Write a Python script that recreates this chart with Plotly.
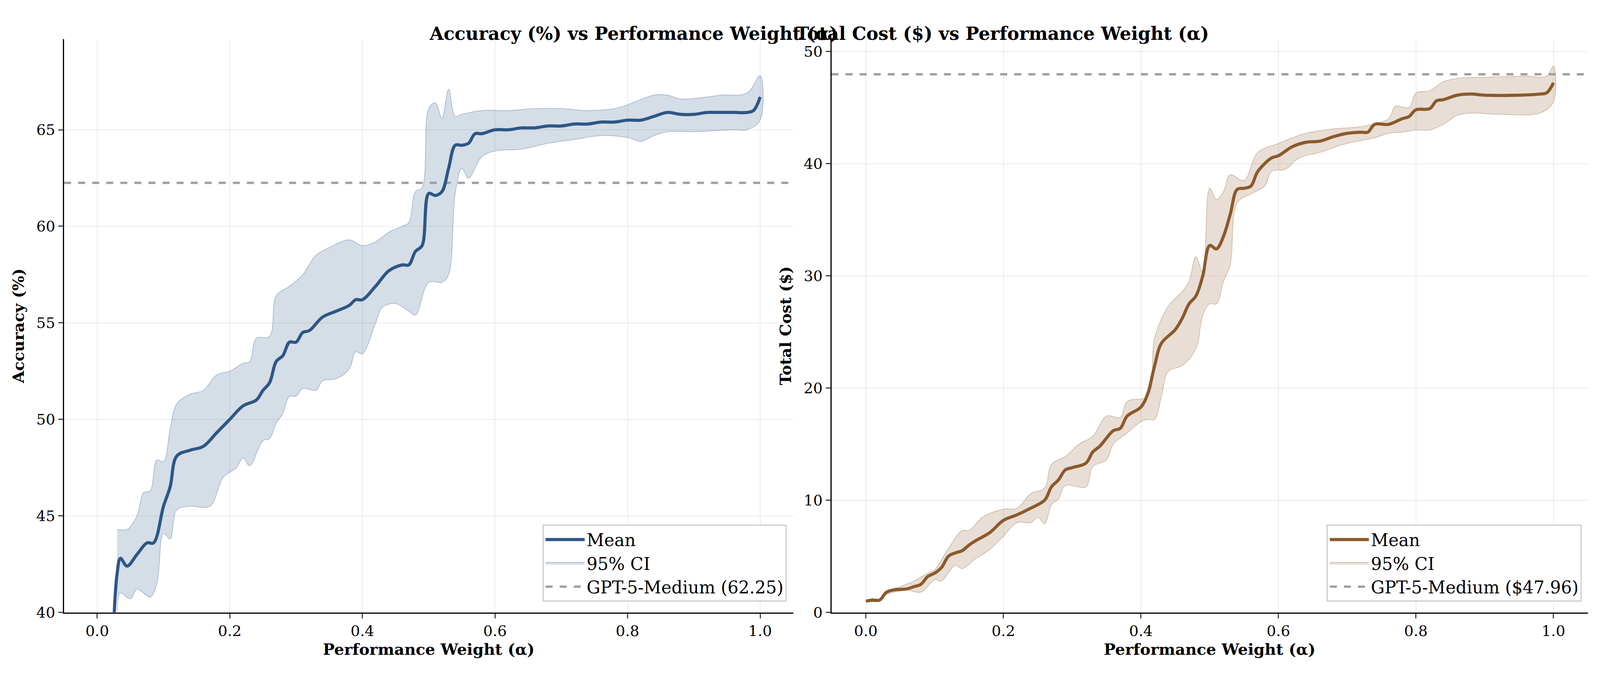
import plotly.graph_objects as go

# ---- Accuracy panel data ----
acc_mean_x = [0.025,0.03,0.035,0.045,0.06,0.075,0.085,0.1,0.11,0.12,0.14,0.16,0.18,0.2,0.22,0.24,0.25,0.26,0.27,0.28,0.29,0.3,0.31,0.32,0.34,0.36,0.38,0.39,0.4,0.42,0.44,0.46,0.47,0.48,0.49,0.5,0.51,0.52,0.53,0.54,0.55,0.56,0.57,0.58,0.6,0.62,0.64,0.66,0.68,0.7,0.72,0.74,0.76,0.78,0.8,0.82,0.84,0.86,0.88,0.9,0.92,0.94,0.96,0.98,0.99,1.0]
acc_mean = [39.5,42.0,42.8,42.4,43.0,43.6,43.6,45.5,46.5,48.1,48.4,48.6,49.3,50.0,50.7,51.0,51.5,51.9,53.0,53.3,54.0,54.0,54.5,54.6,55.3,55.6,55.9,56.2,56.2,56.9,57.7,58.0,58.0,58.7,59.0,61.7,61.6,61.8,63.0,64.2,64.2,64.3,64.8,64.8,65.0,65.0,65.1,65.1,65.2,65.2,65.3,65.3,65.4,65.4,65.5,65.5,65.7,65.9,65.8,65.8,65.9,65.9,65.9,65.9,66.0,66.7]
acc_up_x = [0.03,0.045,0.06,0.07,0.08,0.09,0.1,0.11,0.12,0.14,0.16,0.18,0.2,0.22,0.23,0.24,0.26,0.27,0.29,0.31,0.33,0.35,0.38,0.4,0.42,0.44,0.46,0.47,0.48,0.49,0.5,0.51,0.52,0.53,0.54,0.55,0.58,0.62,0.66,0.7,0.74,0.78,0.8,0.84,0.86,0.88,0.92,0.94,0.98,1.0]
acc_up = [44.3,44.3,45.0,46.2,46.3,47.9,47.8,49.5,50.8,51.3,51.5,52.3,52.5,52.9,53.0,54.2,54.3,56.4,56.9,57.5,58.5,58.9,59.3,59.0,59.2,59.7,60.0,60.2,61.8,62.0,66.1,66.4,65.6,67.1,65.7,65.8,66.0,66.0,66.1,66.1,66.0,66.1,66.3,66.8,66.8,66.6,66.7,66.8,66.9,67.8]
acc_lo_x = [0.03,0.035,0.05,0.06,0.08,0.09,0.1,0.11,0.12,0.14,0.17,0.19,0.21,0.22,0.23,0.25,0.26,0.27,0.28,0.29,0.3,0.31,0.33,0.34,0.36,0.38,0.39,0.4,0.42,0.43,0.45,0.47,0.48,0.5,0.52,0.53,0.54,0.55,0.56,0.58,0.6,0.64,0.68,0.72,0.76,0.8,0.82,0.84,0.86,0.9,0.96,0.98,1.0]
acc_lo = [39.5,41.0,40.7,41.2,40.8,41.5,44.1,43.8,45.3,45.5,45.5,47.0,47.5,48.0,47.6,48.9,49.0,49.8,50.3,51.2,51.2,51.6,51.5,52.0,52.1,52.6,53.5,53.4,55.0,55.8,56.0,55.6,55.4,57.1,57.1,57.5,61.7,63.0,62.5,63.6,63.9,64.0,64.3,64.5,64.7,64.6,64.4,64.7,64.9,64.9,65.0,65.0,65.5]
acc_ref = 62.25

# ---- Cost panel data ----
cost_mean_x = [0,0.01,0.02,0.03,0.04,0.06,0.07,0.08,0.09,0.1,0.11,0.12,0.13,0.14,0.15,0.16,0.18,0.2,0.22,0.24,0.26,0.27,0.28,0.29,0.3,0.32,0.33,0.34,0.36,0.37,0.38,0.4,0.41,0.42,0.43,0.45,0.46,0.47,0.48,0.49,0.5,0.51,0.52,0.53,0.54,0.55,0.56,0.57,0.59,0.6,0.62,0.64,0.66,0.68,0.7,0.72,0.73,0.74,0.76,0.78,0.79,0.8,0.82,0.83,0.84,0.86,0.88,0.9,0.95,0.98,0.99,1.0]
cost_mean = [1.0,1.1,1.1,1.8,2.0,2.1,2.3,2.5,3.2,3.5,4.0,5.0,5.3,5.5,6.0,6.4,7.1,8.2,8.7,9.3,10.0,11.2,11.8,12.7,12.9,13.3,14.3,14.8,16.2,16.4,17.5,18.3,19.5,22.0,24.0,25.2,26.2,27.5,28.2,30.0,32.7,32.4,33.5,35.5,37.7,37.8,38.0,39.3,40.5,40.7,41.5,41.9,42.0,42.4,42.7,42.8,42.8,43.5,43.5,44.0,44.2,44.8,44.9,45.6,45.7,46.1,46.2,46.1,46.1,46.2,46.3,47.2]
cost_up_x = [0,0.02,0.03,0.05,0.07,0.09,0.1,0.12,0.14,0.15,0.17,0.2,0.22,0.24,0.26,0.27,0.29,0.31,0.33,0.35,0.37,0.38,0.41,0.42,0.44,0.46,0.47,0.48,0.49,0.5,0.51,0.52,0.53,0.55,0.57,0.6,0.62,0.64,0.68,0.72,0.76,0.77,0.79,0.8,0.82,0.84,0.86,0.9,0.96,0.99,1.0]
cost_up = [1.0,1.2,1.9,2.3,2.8,3.5,3.8,5.7,7.3,7.3,8.5,9.2,9.3,10.6,11.1,13.2,13.9,15.0,15.7,17.5,17.4,18.8,19.3,24.5,27.3,28.6,29.5,31.7,30.3,37.8,36.8,37.5,39.0,38.5,41.0,41.8,42.3,42.7,43.1,43.3,44.0,45.1,45.0,46.3,46.5,47.3,47.6,47.7,47.8,47.8,48.7]
cost_lo_x = [0,0.02,0.03,0.05,0.06,0.08,0.1,0.11,0.13,0.14,0.16,0.18,0.2,0.22,0.24,0.25,0.26,0.27,0.28,0.29,0.32,0.33,0.35,0.36,0.38,0.4,0.41,0.42,0.43,0.44,0.46,0.48,0.49,0.5,0.51,0.52,0.53,0.54,0.56,0.58,0.59,0.61,0.63,0.66,0.7,0.74,0.76,0.78,0.8,0.82,0.84,0.86,0.88,0.92,0.98,1.0]
cost_lo = [1.0,1.0,1.6,1.9,2.0,1.8,2.9,2.8,4.2,3.9,4.8,5.6,6.8,8.0,8.0,8.5,7.9,9.6,10.1,11.3,11.2,13.0,13.6,15.0,16.0,17.0,17.2,17.2,19.3,21.5,22.0,23.5,26.5,27.5,27.5,29.5,31.0,36.5,37.3,38.0,39.3,39.5,40.5,41.0,41.8,42.3,42.7,42.8,43.0,43.0,43.5,44.3,44.5,44.4,44.5,45.5]
cost_ref = 47.96

FONT = "DejaVu Serif"
W, H = 4760, 1760
fig = go.Figure()

def panel(xa, ya, mx, my, ux, uy, lx, ly, ref, line_c, fill_c, edge_c, legend, ref_label):
    fig.add_trace(go.Scatter(x=mx, y=my, mode="lines", line=dict(color=line_c, width=8, shape="spline"),
                             name="Mean", xaxis=xa, yaxis=ya, legend=legend, legendrank=1))
    fig.add_trace(go.Scatter(x=ux + lx[::-1], y=uy + ly[::-1], fill="toself", fillcolor=fill_c,
                             line=dict(color=edge_c, width=2, shape="spline"), mode="lines",
                             name="95% CI", xaxis=xa, yaxis=ya, legend=legend, legendrank=2))
    fig.add_trace(go.Scatter(x=[-0.05, 1.05], y=[ref, ref], mode="lines",
                             line=dict(color="#a0a0a0", width=6, dash="dash"),
                             name=ref_label, xaxis=xa, yaxis=ya, legend=legend, legendrank=3))
    # keep mean on top
    fig.data = fig.data[:-3] + (fig.data[-2], fig.data[-1], fig.data[-3])

panel("x", "y", acc_mean_x, acc_mean, acc_up_x, acc_up, acc_lo_x, acc_lo, acc_ref,
      "#2c5785", "rgba(44,87,133,0.2)", "rgba(44,87,133,0.3)", "legend", "GPT-5-Medium (62.25)")
panel("x2", "y2", cost_mean_x, cost_mean, cost_up_x, cost_up, cost_lo_x, cost_lo, cost_ref,
      "#8b5a2b", "rgba(139,90,43,0.2)", "rgba(139,90,43,0.3)", "legend2", "GPT-5-Medium ($47.96)")

ax_common = dict(range=[-0.05, 1.05], tickvals=[0, 0.2, 0.4, 0.6, 0.8, 1.0], ticktext=["0.0","0.2","0.4","0.6","0.8","1.0"],
                 showgrid=True, gridcolor="#ebebeb", gridwidth=2, zeroline=False, showline=True, linecolor="black",
                 linewidth=3, ticks="outside", ticklen=12, tickwidth=3, tickfont=dict(size=38, family=FONT, color="black"),
                 title=dict(text="<b>Performance Weight (α)</b>", font=dict(size=40, family=FONT, color="black"), standoff=12))
ay_common = dict(showgrid=True, gridcolor="#ebebeb", gridwidth=2, zeroline=False, showline=True, linecolor="black",
                 linewidth=3, ticks="outside", ticklen=12, tickwidth=3, tickfont=dict(size=38, family=FONT, color="black"))

leg_common = dict(xanchor="right", yanchor="bottom", bgcolor="white", bordercolor="#cccccc", borderwidth=3,
                  font=dict(size=44, family=FONT), itemwidth=100, tracegroupgap=0, traceorder="normal")

fig.update_layout(
    autosize=True, margin=dict(l=0, r=0, t=0, b=0),
    plot_bgcolor="white", paper_bgcolor="white", font=dict(family=FONT, color="black"),
    xaxis=dict(domain=[182/W, 2360/W], anchor="y", **ax_common),
    yaxis=dict(domain=[1 - 1593/H, 1 - 94/H], anchor="x", range=[40, 69.7], tickvals=[40,45,50,55,60,65],
               title=dict(text="<b>Accuracy (%)</b>", font=dict(size=40, family=FONT), standoff=20), **ay_common),
    xaxis2=dict(domain=[2474/W, 4733/W], anchor="y2", **ax_common),
    yaxis2=dict(domain=[1 - 1593/H, 1 - 94/H], anchor="x2", range=[0, 51.1], tickvals=[0,10,20,30,40,50],
                title=dict(text="<b>Total Cost ($)</b>", font=dict(size=40, family=FONT), standoff=20), **ay_common),
    legend=dict(x=2340/W, y=1 - 1565/H, **leg_common),
    legend2=dict(x=4715/W, y=1 - 1565/H, **leg_common),
    annotations=[
        dict(text="<b>Accuracy (%) vs Performance Weight (α)</b>", x=(182 + 2360) / 2 / W, y=1 - 50/H,
             xref="paper", yref="paper", showarrow=False, font=dict(size=46, family=FONT)),
        dict(text="<b>Total Cost ($) vs Performance Weight (α)</b>", x=(2474 + 4733) / 2 / W, y=1 - 50/H,
             xref="paper", yref="paper", showarrow=False, font=dict(size=46, family=FONT)),
    ],
)
fig.write_html("out.html", default_width="100%", default_height="100%", config={"responsive": True})
